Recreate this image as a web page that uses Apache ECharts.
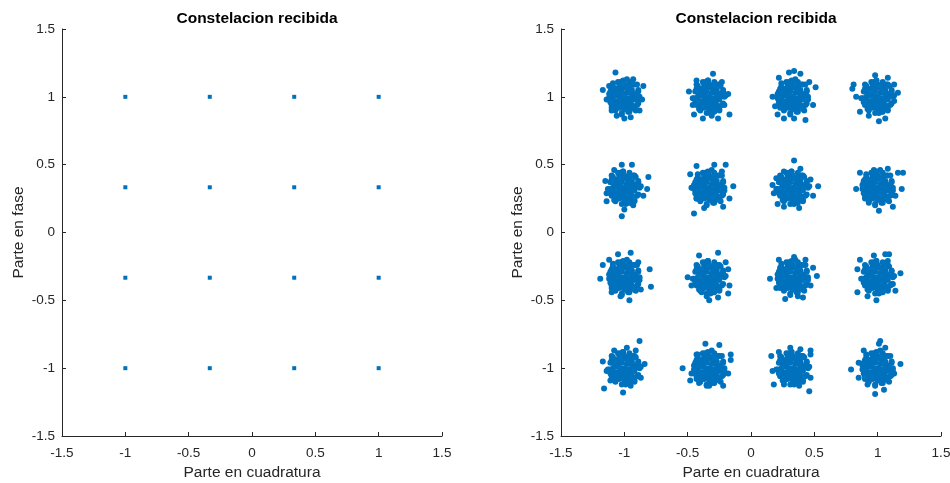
<!DOCTYPE html>
<html><head><meta charset="utf-8">
<script src="https://cdn.jsdelivr.net/npm/echarts@6/dist/echarts.min.js"></script>
<style>html,body{margin:0;padding:0;background:#fff}#c{width:950px;height:483px}</style>
</head><body><div id="c"></div>
<script>
// ---- data ----
const titleText = 'Constelacion recibida';
const xName = 'Parte en cuadratura';
const yName = 'Parte en fase';
const axisMin = -1.5, axisMax = 1.5, axisStep = 0.5;

// transmitted (ideal) constellation, left panel
const txPoints = [
 [-1,1],[-0.3333,1],[0.3333,1],[1,1],
 [-1,0.3333],[-0.3333,0.3333],[0.3333,0.3333],[1,0.3333],
 [-1,-0.3333],[-0.3333,-0.3333],[0.3333,-0.3333],[1,-0.3333],
 [-1,-1],[-0.3333,-1],[0.3333,-1],[1,-1]
];

// received clusters, right panel
const rx_m1_p1 = [[-1.09,1.00],[-1.06,1.01],[-1.03,1.00],[-1.00,1.00],[-0.97,0.99],[-0.94,1.00],[-0.91,1.01],[-1.08,1.03],[-1.05,1.03],[-1.02,1.04],[-0.98,1.03],[-0.95,1.03],[-0.92,1.02],[-1.08,0.97],[-1.05,0.97],[-1.01,0.97],[-0.98,0.96],[-0.95,0.97],[-0.92,0.98],[-1.06,1.06],[-1.03,1.06],[-1.00,1.07],[-0.97,1.06],[-0.94,1.05],[-1.06,0.94],[-1.03,0.94],[-1.00,0.94],[-0.97,0.93],[-0.94,0.94],[-1.04,1.09],[-1.00,1.09],[-0.96,1.08],[-1.04,0.92],[-1.00,0.91],[-0.96,0.91],[-0.89,1.04],[-1.11,0.96],[-0.96,0.89],[-1.03,1.11],[-0.90,0.94],[-1.10,1.06],[-0.93,1.09],[-1.07,0.91],
 [-0.88,1.00],[-0.89,1.05],[-0.92,1.09],[-0.96,1.11],[-1.01,1.12],[-1.05,1.11],[-1.09,1.08],[-1.11,1.04],[-1.12,0.99],[-1.10,0.94],[-1.07,0.90],[-1.02,0.88],[-0.97,0.89],[-0.92,0.91],[-0.89,0.95],
 [-1.07,1.18],[-1.17,1.05],[-0.85,1.08],[-1.00,0.84],[-0.95,0.85],[-1.14,0.98],[-1.06,0.86],[-0.86,0.98],[-0.93,1.13],[-1.12,1.08],[-0.88,0.90],[-1.10,0.90],
 [-0.88,0.98],[-1.12,1.02],[-0.98,1.13],[-1.02,0.87],[-0.91,0.90],[-1.09,1.10],[-0.90,1.09],[-1.10,0.92]];
const rx_m3_p1 = [[-0.42,1.00],[-0.39,1.01],[-0.36,1.00],[-0.33,1.00],[-0.30,0.99],[-0.27,1.00],[-0.24,1.01],[-0.41,1.03],[-0.38,1.03],[-0.35,1.04],[-0.31,1.03],[-0.28,1.03],[-0.25,1.02],[-0.41,0.97],[-0.38,0.97],[-0.34,0.97],[-0.31,0.96],[-0.28,0.97],[-0.25,0.98],[-0.39,1.06],[-0.36,1.06],[-0.33,1.07],[-0.30,1.06],[-0.27,1.05],[-0.39,0.94],[-0.36,0.94],[-0.33,0.94],[-0.30,0.93],[-0.27,0.94],[-0.37,1.09],[-0.33,1.09],[-0.29,1.08],[-0.37,0.92],[-0.33,0.91],[-0.29,0.91],[-0.22,1.04],[-0.44,0.96],[-0.29,0.89],[-0.36,1.11],[-0.23,0.94],[-0.43,1.06],[-0.26,1.09],[-0.40,0.91],
 [-0.21,1.00],[-0.22,1.05],[-0.25,1.09],[-0.29,1.11],[-0.34,1.12],[-0.38,1.11],[-0.42,1.08],[-0.44,1.04],[-0.45,0.99],[-0.43,0.94],[-0.40,0.90],[-0.35,0.88],[-0.30,0.89],[-0.25,0.91],[-0.22,0.95],
 [-0.49,1.04],[-0.30,1.17],[-0.43,1.12],[-0.17,0.87],[-0.26,0.84],[-0.38,0.84],[-0.45,0.87],[-0.18,1.02],[-0.46,0.94],[-0.21,0.94],[-0.23,1.11],[-0.31,0.86],
 [-0.20,1.01],[-0.46,0.99],[-0.34,1.12],[-0.32,0.88],[-0.24,1.08],[-0.41,0.91],[-0.25,0.90],[-0.43,1.09]];
const rx_p3_p1 = [[0.24,1.00],[0.27,1.01],[0.30,1.00],[0.33,1.00],[0.36,0.99],[0.39,1.00],[0.42,1.01],[0.25,1.03],[0.28,1.03],[0.31,1.04],[0.35,1.03],[0.38,1.03],[0.41,1.02],[0.25,0.97],[0.28,0.97],[0.32,0.97],[0.35,0.96],[0.38,0.97],[0.41,0.98],[0.27,1.06],[0.30,1.06],[0.33,1.07],[0.36,1.06],[0.39,1.05],[0.27,0.94],[0.30,0.94],[0.33,0.94],[0.36,0.93],[0.39,0.94],[0.29,1.09],[0.33,1.09],[0.37,1.08],[0.29,0.92],[0.33,0.91],[0.37,0.91],[0.44,1.04],[0.22,0.96],[0.37,0.89],[0.30,1.11],[0.43,0.94],[0.23,1.06],[0.40,1.09],[0.26,0.91],
 [0.45,1.00],[0.44,1.05],[0.41,1.09],[0.37,1.11],[0.32,1.12],[0.28,1.11],[0.24,1.08],[0.22,1.04],[0.21,0.99],[0.23,0.94],[0.26,0.90],[0.31,0.88],[0.36,0.89],[0.41,0.91],[0.44,0.95],
 [0.34,1.19],[0.30,1.18],[0.39,1.17],[0.22,1.14],[0.17,1.00],[0.19,0.93],[0.21,0.87],[0.26,0.84],[0.34,0.84],[0.43,0.83],[0.49,0.94],[0.51,1.07],[0.46,1.11],
 [0.45,0.98],[0.21,1.02],[0.35,1.13],[0.31,0.87],[0.42,0.90],[0.24,1.10],[0.43,1.09],[0.23,0.92]];
const rx_p1_p1 = [[0.91,1.00],[0.94,1.01],[0.97,1.00],[1.00,1.00],[1.03,0.99],[1.06,1.00],[1.09,1.01],[0.92,1.03],[0.95,1.03],[0.98,1.04],[1.02,1.03],[1.05,1.03],[1.08,1.02],[0.92,0.97],[0.95,0.97],[0.99,0.97],[1.02,0.96],[1.05,0.97],[1.08,0.98],[0.94,1.06],[0.97,1.06],[1.00,1.07],[1.03,1.06],[1.06,1.05],[0.94,0.94],[0.97,0.94],[1.00,0.94],[1.03,0.93],[1.06,0.94],[0.96,1.09],[1.00,1.09],[1.04,1.08],[0.96,0.92],[1.00,0.91],[1.04,0.91],[1.11,1.04],[0.89,0.96],[1.04,0.89],[0.97,1.11],[1.10,0.94],[0.90,1.06],[1.07,1.09],[0.93,0.91],
 [1.12,1.00],[1.11,1.05],[1.08,1.09],[1.04,1.11],[0.99,1.12],[0.95,1.11],[0.91,1.08],[0.89,1.04],[0.88,0.99],[0.90,0.94],[0.93,0.90],[0.98,0.88],[1.03,0.89],[1.08,0.91],[1.11,0.95],
 [0.81,1.09],[0.80,1.06],[0.98,1.16],[1.08,1.14],[1.16,1.03],[1.13,0.97],[0.86,0.89],[1.01,0.82],[0.93,0.86],[1.06,0.84],[0.83,1.00],[1.13,1.09],
 [1.13,1.01],[0.87,0.99],[0.99,1.12],[1.01,0.88],[1.09,1.08],[0.92,0.91],[1.08,0.90],[0.90,1.09]];
const rx_m1_p3 = [[-1.09,0.33],[-1.06,0.34],[-1.03,0.33],[-1.00,0.33],[-0.97,0.32],[-0.94,0.33],[-0.91,0.34],[-1.08,0.36],[-1.05,0.36],[-1.02,0.37],[-0.98,0.36],[-0.95,0.36],[-0.92,0.35],[-1.08,0.30],[-1.05,0.30],[-1.01,0.30],[-0.98,0.29],[-0.95,0.30],[-0.92,0.31],[-1.06,0.39],[-1.03,0.39],[-1.00,0.40],[-0.97,0.39],[-0.94,0.38],[-1.06,0.27],[-1.03,0.27],[-1.00,0.27],[-0.97,0.26],[-0.94,0.27],[-1.04,0.42],[-1.00,0.42],[-0.96,0.41],[-1.04,0.25],[-1.00,0.24],[-0.96,0.24],[-0.89,0.37],[-1.11,0.29],[-0.96,0.22],[-1.03,0.44],[-0.90,0.27],[-1.10,0.39],[-0.93,0.42],[-1.07,0.24],
 [-0.88,0.33],[-0.89,0.38],[-0.92,0.42],[-0.96,0.44],[-1.01,0.45],[-1.05,0.44],[-1.09,0.41],[-1.11,0.37],[-1.12,0.32],[-1.10,0.27],[-1.07,0.23],[-1.02,0.21],[-0.97,0.22],[-0.92,0.24],[-0.89,0.28],
 [-1.02,0.12],[-1.15,0.38],[-0.81,0.41],[-0.94,0.50],[-1.02,0.50],[-0.82,0.32],[-1.14,0.23],[-1.00,0.17],[-0.93,0.20],[-0.85,0.27],[-1.08,0.46],[-1.14,0.29],
 [-0.87,0.34],[-1.13,0.32],[-1.01,0.45],[-0.99,0.21],[-0.91,0.41],[-1.08,0.24],[-0.92,0.23],[-1.10,0.42]];
const rx_m3_p3 = [[-0.42,0.33],[-0.39,0.34],[-0.36,0.33],[-0.33,0.33],[-0.30,0.32],[-0.27,0.33],[-0.24,0.34],[-0.41,0.36],[-0.38,0.36],[-0.35,0.37],[-0.31,0.36],[-0.28,0.36],[-0.25,0.35],[-0.41,0.30],[-0.38,0.30],[-0.34,0.30],[-0.31,0.29],[-0.28,0.30],[-0.25,0.31],[-0.39,0.39],[-0.36,0.39],[-0.33,0.40],[-0.30,0.39],[-0.27,0.38],[-0.39,0.27],[-0.36,0.27],[-0.33,0.27],[-0.30,0.26],[-0.27,0.27],[-0.37,0.42],[-0.33,0.42],[-0.29,0.41],[-0.37,0.25],[-0.33,0.24],[-0.29,0.24],[-0.22,0.37],[-0.44,0.29],[-0.29,0.22],[-0.36,0.44],[-0.23,0.27],[-0.43,0.39],[-0.26,0.42],[-0.40,0.24],
 [-0.21,0.33],[-0.22,0.38],[-0.25,0.42],[-0.29,0.44],[-0.34,0.45],[-0.38,0.44],[-0.42,0.41],[-0.44,0.37],[-0.45,0.32],[-0.43,0.27],[-0.40,0.23],[-0.35,0.21],[-0.30,0.22],[-0.25,0.24],[-0.22,0.28],
 [-0.45,0.14],[-0.20,0.50],[-0.43,0.49],[-0.48,0.43],[-0.14,0.34],[-0.22,0.19],[-0.47,0.33],[-0.29,0.50],[-0.37,0.18],[-0.17,0.25],[-0.43,0.25],[-0.23,0.45],
 [-0.21,0.31],[-0.45,0.35],[-0.31,0.46],[-0.35,0.20],[-0.24,0.23],[-0.42,0.43],[-0.23,0.42],[-0.43,0.25]];
const rx_p3_p3 = [[0.24,0.33],[0.27,0.34],[0.30,0.33],[0.33,0.33],[0.36,0.32],[0.39,0.33],[0.42,0.34],[0.25,0.36],[0.28,0.36],[0.31,0.37],[0.35,0.36],[0.38,0.36],[0.41,0.35],[0.25,0.30],[0.28,0.30],[0.32,0.30],[0.35,0.29],[0.38,0.30],[0.41,0.31],[0.27,0.39],[0.30,0.39],[0.33,0.40],[0.36,0.39],[0.39,0.38],[0.27,0.27],[0.30,0.27],[0.33,0.27],[0.36,0.26],[0.39,0.27],[0.29,0.42],[0.33,0.42],[0.37,0.41],[0.29,0.25],[0.33,0.24],[0.37,0.24],[0.44,0.37],[0.22,0.29],[0.37,0.22],[0.30,0.44],[0.43,0.27],[0.23,0.39],[0.40,0.42],[0.26,0.24],
 [0.45,0.33],[0.44,0.38],[0.41,0.42],[0.37,0.44],[0.32,0.45],[0.28,0.44],[0.24,0.41],[0.22,0.37],[0.21,0.32],[0.23,0.27],[0.26,0.23],[0.31,0.21],[0.36,0.22],[0.41,0.24],[0.44,0.28],
 [0.34,0.53],[0.17,0.35],[0.53,0.34],[0.26,0.19],[0.38,0.18],[0.21,0.21],[0.47,0.39],[0.20,0.40],[0.26,0.45],[0.39,0.47],[0.49,0.27],[0.18,0.29],
 [0.46,0.34],[0.20,0.32],[0.32,0.45],[0.34,0.21],[0.42,0.41],[0.25,0.24],[0.41,0.23],[0.23,0.42]];
const rx_p1_p3 = [[0.91,0.33],[0.94,0.34],[0.97,0.33],[1.00,0.33],[1.03,0.32],[1.06,0.33],[1.09,0.34],[0.92,0.36],[0.95,0.36],[0.98,0.37],[1.02,0.36],[1.05,0.36],[1.08,0.35],[0.92,0.30],[0.95,0.30],[0.99,0.30],[1.02,0.29],[1.05,0.30],[1.08,0.31],[0.94,0.39],[0.97,0.39],[1.00,0.40],[1.03,0.39],[1.06,0.38],[0.94,0.27],[0.97,0.27],[1.00,0.27],[1.03,0.26],[1.06,0.27],[0.96,0.42],[1.00,0.42],[1.04,0.41],[0.96,0.25],[1.00,0.24],[1.04,0.24],[1.11,0.37],[0.89,0.29],[1.04,0.22],[0.97,0.44],[1.10,0.27],[0.90,0.39],[1.07,0.42],[0.93,0.24],
 [1.12,0.33],[1.11,0.38],[1.08,0.42],[1.04,0.44],[0.99,0.45],[0.95,0.44],[0.91,0.41],[0.89,0.37],[0.88,0.32],[0.90,0.27],[0.93,0.23],[0.98,0.21],[1.03,0.22],[1.08,0.24],[1.11,0.28],
 [1.20,0.44],[1.16,0.44],[0.83,0.32],[0.86,0.44],[1.01,0.16],[1.12,0.19],[1.19,0.32],[1.08,0.47],[0.93,0.22],[0.89,0.38],[0.97,0.46],[1.14,0.27],
 [1.12,0.31],[0.88,0.35],[1.02,0.46],[0.98,0.20],[1.09,0.23],[0.91,0.43],[1.10,0.42],[0.90,0.25]];
const rx_m1_m3 = [[-1.09,-0.33],[-1.06,-0.32],[-1.03,-0.33],[-1.00,-0.33],[-0.97,-0.34],[-0.94,-0.33],[-0.91,-0.32],[-1.08,-0.30],[-1.05,-0.30],[-1.02,-0.29],[-0.98,-0.30],[-0.95,-0.30],[-0.92,-0.31],[-1.08,-0.36],[-1.05,-0.36],[-1.01,-0.36],[-0.98,-0.37],[-0.95,-0.36],[-0.92,-0.35],[-1.06,-0.27],[-1.03,-0.27],[-1.00,-0.26],[-0.97,-0.27],[-0.94,-0.28],[-1.06,-0.39],[-1.03,-0.39],[-1.00,-0.39],[-0.97,-0.40],[-0.94,-0.39],[-1.04,-0.24],[-1.00,-0.24],[-0.96,-0.25],[-1.04,-0.41],[-1.00,-0.42],[-0.96,-0.42],[-0.89,-0.29],[-1.11,-0.37],[-0.96,-0.44],[-1.03,-0.22],[-0.90,-0.39],[-1.10,-0.27],[-0.93,-0.24],[-1.07,-0.42],
 [-0.88,-0.33],[-0.89,-0.28],[-0.92,-0.24],[-0.96,-0.22],[-1.01,-0.21],[-1.05,-0.22],[-1.09,-0.25],[-1.11,-0.29],[-1.12,-0.34],[-1.10,-0.39],[-1.07,-0.43],[-1.02,-0.45],[-0.97,-0.44],[-0.92,-0.42],[-0.89,-0.38],
 [-1.05,-0.16],[-0.95,-0.15],[-1.17,-0.24],[-0.80,-0.27],[-1.19,-0.34],[-0.79,-0.40],[-0.96,-0.50],[-1.10,-0.44],[-0.87,-0.42],[-1.12,-0.20],[-0.89,-0.22],[-1.03,-0.47],
 [-0.88,-0.35],[-1.12,-0.31],[-0.98,-0.20],[-1.02,-0.46],[-0.91,-0.43],[-1.09,-0.23],[-0.90,-0.24],[-1.10,-0.41]];
const rx_m3_m3 = [[-0.42,-0.33],[-0.39,-0.32],[-0.36,-0.33],[-0.33,-0.33],[-0.30,-0.34],[-0.27,-0.33],[-0.24,-0.32],[-0.41,-0.30],[-0.38,-0.30],[-0.35,-0.29],[-0.31,-0.30],[-0.28,-0.30],[-0.25,-0.31],[-0.41,-0.36],[-0.38,-0.36],[-0.34,-0.36],[-0.31,-0.37],[-0.28,-0.36],[-0.25,-0.35],[-0.39,-0.27],[-0.36,-0.27],[-0.33,-0.26],[-0.30,-0.27],[-0.27,-0.28],[-0.39,-0.39],[-0.36,-0.39],[-0.33,-0.39],[-0.30,-0.40],[-0.27,-0.39],[-0.37,-0.24],[-0.33,-0.24],[-0.29,-0.25],[-0.37,-0.41],[-0.33,-0.42],[-0.29,-0.42],[-0.22,-0.29],[-0.44,-0.37],[-0.29,-0.44],[-0.36,-0.22],[-0.23,-0.39],[-0.43,-0.27],[-0.26,-0.24],[-0.40,-0.42],
 [-0.21,-0.33],[-0.22,-0.28],[-0.25,-0.24],[-0.29,-0.22],[-0.34,-0.21],[-0.38,-0.22],[-0.42,-0.25],[-0.44,-0.29],[-0.45,-0.34],[-0.43,-0.39],[-0.40,-0.43],[-0.35,-0.45],[-0.30,-0.44],[-0.25,-0.42],[-0.22,-0.38],
 [-0.26,-0.15],[-0.33,-0.50],[-0.35,-0.47],[-0.50,-0.33],[-0.47,-0.39],[-0.20,-0.22],[-0.17,-0.39],[-0.18,-0.45],[-0.41,-0.17],[-0.26,-0.48],[-0.18,-0.27],[-0.39,-0.44],
 [-0.20,-0.32],[-0.46,-0.34],[-0.34,-0.21],[-0.32,-0.45],[-0.24,-0.25],[-0.41,-0.42],[-0.25,-0.43],[-0.43,-0.24]];
const rx_p3_m3 = [[0.24,-0.33],[0.27,-0.32],[0.30,-0.33],[0.33,-0.33],[0.36,-0.34],[0.39,-0.33],[0.42,-0.32],[0.25,-0.30],[0.28,-0.30],[0.31,-0.29],[0.35,-0.30],[0.38,-0.30],[0.41,-0.31],[0.25,-0.36],[0.28,-0.36],[0.32,-0.36],[0.35,-0.37],[0.38,-0.36],[0.41,-0.35],[0.27,-0.27],[0.30,-0.27],[0.33,-0.26],[0.36,-0.27],[0.39,-0.28],[0.27,-0.39],[0.30,-0.39],[0.33,-0.39],[0.36,-0.40],[0.39,-0.39],[0.29,-0.24],[0.33,-0.24],[0.37,-0.25],[0.29,-0.41],[0.33,-0.42],[0.37,-0.42],[0.44,-0.29],[0.22,-0.37],[0.37,-0.44],[0.30,-0.22],[0.43,-0.39],[0.23,-0.27],[0.40,-0.24],[0.26,-0.42],
 [0.45,-0.33],[0.44,-0.28],[0.41,-0.24],[0.37,-0.22],[0.32,-0.21],[0.28,-0.22],[0.24,-0.25],[0.22,-0.29],[0.21,-0.34],[0.23,-0.39],[0.26,-0.43],[0.31,-0.45],[0.36,-0.44],[0.41,-0.42],[0.44,-0.38],
 [0.22,-0.20],[0.43,-0.20],[0.15,-0.34],[0.52,-0.32],[0.27,-0.49],[0.41,-0.48],[0.20,-0.41],[0.47,-0.39],[0.34,-0.18],[0.37,-0.47],[0.23,-0.26],[0.49,-0.26],
 [0.45,-0.35],[0.21,-0.31],[0.35,-0.20],[0.31,-0.46],[0.42,-0.43],[0.24,-0.23],[0.43,-0.24],[0.23,-0.41]];
const rx_p1_m3 = [[0.91,-0.33],[0.94,-0.32],[0.97,-0.33],[1.00,-0.33],[1.03,-0.34],[1.06,-0.33],[1.09,-0.32],[0.92,-0.30],[0.95,-0.30],[0.98,-0.29],[1.02,-0.30],[1.05,-0.30],[1.08,-0.31],[0.92,-0.36],[0.95,-0.36],[0.99,-0.36],[1.02,-0.37],[1.05,-0.36],[1.08,-0.35],[0.94,-0.27],[0.97,-0.27],[1.00,-0.26],[1.03,-0.27],[1.06,-0.28],[0.94,-0.39],[0.97,-0.39],[1.00,-0.39],[1.03,-0.40],[1.06,-0.39],[0.96,-0.24],[1.00,-0.24],[1.04,-0.25],[0.96,-0.41],[1.00,-0.42],[1.04,-0.42],[1.11,-0.29],[0.89,-0.37],[1.04,-0.44],[0.97,-0.22],[1.10,-0.39],[0.90,-0.27],[1.07,-0.24],[0.93,-0.42],
 [1.12,-0.33],[1.11,-0.28],[1.08,-0.24],[1.04,-0.22],[0.99,-0.21],[0.95,-0.22],[0.91,-0.25],[0.89,-0.29],[0.88,-0.34],[0.90,-0.39],[0.93,-0.43],[0.98,-0.45],[1.03,-0.44],[1.08,-0.42],[1.11,-0.38],
 [1.06,-0.16],[1.09,-0.16],[0.86,-0.20],[0.84,-0.44],[0.99,-0.50],[1.18,-0.30],[0.84,-0.27],[1.12,-0.38],[0.92,-0.47],[1.08,-0.21],[0.97,-0.17],[1.14,-0.43],
 [1.13,-0.32],[0.87,-0.34],[0.99,-0.21],[1.01,-0.45],[1.09,-0.25],[0.92,-0.42],[1.08,-0.43],[0.90,-0.24]];
const rx_m1_m1 = [[-1.09,-1.00],[-1.06,-0.99],[-1.03,-1.00],[-1.00,-1.00],[-0.97,-1.01],[-0.94,-1.00],[-0.91,-0.99],[-1.08,-0.97],[-1.05,-0.97],[-1.02,-0.96],[-0.98,-0.97],[-0.95,-0.97],[-0.92,-0.98],[-1.08,-1.03],[-1.05,-1.03],[-1.01,-1.03],[-0.98,-1.04],[-0.95,-1.03],[-0.92,-1.02],[-1.06,-0.94],[-1.03,-0.94],[-1.00,-0.93],[-0.97,-0.94],[-0.94,-0.95],[-1.06,-1.06],[-1.03,-1.06],[-1.00,-1.06],[-0.97,-1.07],[-0.94,-1.06],[-1.04,-0.91],[-1.00,-0.91],[-0.96,-0.92],[-1.04,-1.08],[-1.00,-1.09],[-0.96,-1.09],[-0.89,-0.96],[-1.11,-1.04],[-0.96,-1.11],[-1.03,-0.89],[-0.90,-1.06],[-1.10,-0.94],[-0.93,-0.91],[-1.07,-1.09],
 [-0.88,-1.00],[-0.89,-0.95],[-0.92,-0.91],[-0.96,-0.89],[-1.01,-0.88],[-1.05,-0.89],[-1.09,-0.92],[-1.11,-0.96],[-1.12,-1.01],[-1.10,-1.06],[-1.07,-1.10],[-1.02,-1.12],[-0.97,-1.11],[-0.92,-1.09],[-0.89,-1.05],
 [-0.88,-0.80],[-1.16,-1.15],[-1.01,-1.18],[-1.17,-0.95],[-0.84,-0.97],[-0.98,-0.85],[-1.08,-0.87],[-0.91,-0.87],[-1.11,-1.09],[-0.87,-1.07],[-0.95,-1.13],[-1.14,-1.02],
 [-0.87,-0.99],[-1.13,-1.01],[-1.01,-0.88],[-0.99,-1.12],[-0.91,-0.92],[-1.08,-1.09],[-0.92,-1.10],[-1.10,-0.91]];
const rx_m3_m1 = [[-0.42,-1.00],[-0.39,-0.99],[-0.36,-1.00],[-0.33,-1.00],[-0.30,-1.01],[-0.27,-1.00],[-0.24,-0.99],[-0.41,-0.97],[-0.38,-0.97],[-0.35,-0.96],[-0.31,-0.97],[-0.28,-0.97],[-0.25,-0.98],[-0.41,-1.03],[-0.38,-1.03],[-0.34,-1.03],[-0.31,-1.04],[-0.28,-1.03],[-0.25,-1.02],[-0.39,-0.94],[-0.36,-0.94],[-0.33,-0.93],[-0.30,-0.94],[-0.27,-0.95],[-0.39,-1.06],[-0.36,-1.06],[-0.33,-1.06],[-0.30,-1.07],[-0.27,-1.06],[-0.37,-0.91],[-0.33,-0.91],[-0.29,-0.92],[-0.37,-1.08],[-0.33,-1.09],[-0.29,-1.09],[-0.22,-0.96],[-0.44,-1.04],[-0.29,-1.11],[-0.36,-0.89],[-0.23,-1.06],[-0.43,-0.94],[-0.26,-0.91],[-0.40,-1.09],
 [-0.21,-1.00],[-0.22,-0.95],[-0.25,-0.91],[-0.29,-0.89],[-0.34,-0.88],[-0.38,-0.89],[-0.42,-0.92],[-0.44,-0.96],[-0.45,-1.01],[-0.43,-1.06],[-0.40,-1.10],[-0.35,-1.12],[-0.30,-1.11],[-0.25,-1.09],[-0.22,-1.05],
 [-0.54,-1.00],[-0.36,-0.82],[-0.25,-0.83],[-0.16,-0.90],[-0.16,-0.94],[-0.18,-1.04],[-0.22,-1.13],[-0.48,-1.09],[-0.41,-1.11],[-0.33,-1.13],[-0.47,-1.04],[-0.43,-0.90],
 [-0.21,-1.02],[-0.45,-0.98],[-0.31,-0.87],[-0.35,-1.13],[-0.24,-1.10],[-0.42,-0.90],[-0.23,-0.91],[-0.43,-1.08]];
const rx_p3_m1 = [[0.24,-1.00],[0.27,-0.99],[0.30,-1.00],[0.33,-1.00],[0.36,-1.01],[0.39,-1.00],[0.42,-0.99],[0.25,-0.97],[0.28,-0.97],[0.31,-0.96],[0.35,-0.97],[0.38,-0.97],[0.41,-0.98],[0.25,-1.03],[0.28,-1.03],[0.32,-1.03],[0.35,-1.04],[0.38,-1.03],[0.41,-1.02],[0.27,-0.94],[0.30,-0.94],[0.33,-0.93],[0.36,-0.94],[0.39,-0.95],[0.27,-1.06],[0.30,-1.06],[0.33,-1.06],[0.36,-1.07],[0.39,-1.06],[0.29,-0.91],[0.33,-0.91],[0.37,-0.92],[0.29,-1.08],[0.33,-1.09],[0.37,-1.09],[0.44,-0.96],[0.22,-1.04],[0.37,-1.11],[0.30,-0.89],[0.43,-1.06],[0.23,-0.94],[0.40,-0.91],[0.26,-1.09],
 [0.45,-1.00],[0.44,-0.95],[0.41,-0.91],[0.37,-0.89],[0.32,-0.88],[0.28,-0.89],[0.24,-0.92],[0.22,-0.96],[0.21,-1.01],[0.23,-1.06],[0.26,-1.10],[0.31,-1.12],[0.36,-1.11],[0.41,-1.09],[0.44,-1.05],
 [0.46,-1.17],[0.18,-1.12],[0.16,-0.91],[0.47,-0.87],[0.47,-0.90],[0.17,-1.02],[0.38,-1.13],[0.26,-1.12],[0.31,-0.85],[0.22,-0.88],[0.47,-1.07],[0.39,-0.86],
 [0.46,-0.99],[0.20,-1.01],[0.32,-0.88],[0.34,-1.12],[0.42,-0.92],[0.25,-1.09],[0.41,-1.10],[0.23,-0.91]];
const rx_p1_m1 = [[0.91,-1.00],[0.94,-0.99],[0.97,-1.00],[1.00,-1.00],[1.03,-1.01],[1.06,-1.00],[1.09,-0.99],[0.92,-0.97],[0.95,-0.97],[0.98,-0.96],[1.02,-0.97],[1.05,-0.97],[1.08,-0.98],[0.92,-1.03],[0.95,-1.03],[0.99,-1.03],[1.02,-1.04],[1.05,-1.03],[1.08,-1.02],[0.94,-0.94],[0.97,-0.94],[1.00,-0.93],[1.03,-0.94],[1.06,-0.95],[0.94,-1.06],[0.97,-1.06],[1.00,-1.06],[1.03,-1.07],[1.06,-1.06],[0.96,-0.91],[1.00,-0.91],[1.04,-0.92],[0.96,-1.08],[1.00,-1.09],[1.04,-1.09],[1.11,-0.96],[0.89,-1.04],[1.04,-1.11],[0.97,-0.89],[1.10,-1.06],[0.90,-0.94],[1.07,-0.91],[0.93,-1.09],
 [1.12,-1.00],[1.11,-0.95],[1.08,-0.91],[1.04,-0.89],[0.99,-0.88],[0.95,-0.89],[0.91,-0.92],[0.89,-0.96],[0.88,-1.01],[0.90,-1.06],[0.93,-1.10],[0.98,-1.12],[1.03,-1.11],[1.08,-1.09],[1.11,-1.05],
 [1.02,-0.80],[1.01,-0.82],[0.79,-1.01],[0.98,-1.19],[1.05,-1.16],[1.18,-0.97],[1.13,-1.04],[0.85,-0.96],[0.89,-0.87],[1.06,-0.85],[0.92,-1.12],[0.85,-1.07],
 [1.12,-1.02],[0.88,-0.98],[1.02,-0.87],[0.98,-1.13],[1.09,-1.10],[0.91,-0.90],[1.10,-0.91],[0.90,-1.08]];

const rxPoints = [].concat(
  rx_m1_p1, rx_m3_p1, rx_p3_p1, rx_p1_p1,
  rx_m1_p3, rx_m3_p3, rx_p3_p3, rx_p1_p3,
  rx_m1_m3, rx_m3_m3, rx_p3_m3, rx_p1_m3,
  rx_m1_m1, rx_m3_m1, rx_p3_m1, rx_p1_m1
);

// ---- chart ----
const FONT = 'Liberation Sans, Arial, Helvetica, sans-serif';
const AX = '#262626';
const BLUE = '#0072BD';

function xAxisCfg(gi) {
  return {
    gridIndex: gi, type: 'value', min: axisMin, max: axisMax, interval: axisStep,
    name: xName, nameLocation: 'middle', nameGap: 20,
    nameTextStyle: { color: AX, fontFamily: FONT, fontSize: 15.5 },
    axisLine: { show: true, onZero: false, lineStyle: { color: AX, width: 1 } },
    axisTick: { show: true, inside: true, length: 4, lineStyle: { color: AX } },
    axisLabel: { color: AX, fontFamily: FONT, fontSize: 13.5, margin: 10 },
    splitLine: { show: false }
  };
}
function yAxisCfg(gi) {
  return {
    gridIndex: gi, type: 'value', min: axisMin, max: axisMax, interval: axisStep,
    name: yName, nameLocation: 'middle', nameGap: 35,
    nameTextStyle: { color: AX, fontFamily: FONT, fontSize: 15.5 },
    axisLine: { show: true, onZero: false, lineStyle: { color: AX, width: 1 } },
    axisTick: { show: true, inside: true, length: 4, lineStyle: { color: AX } },
    axisLabel: { color: AX, fontFamily: FONT, fontSize: 13.5, margin: 7 },
    splitLine: { show: false }
  };
}

const chart = echarts.init(document.getElementById('c'), null, { renderer: 'canvas' });
chart.setOption({
  animation: false,
  backgroundColor: '#ffffff',
  title: [
    { text: titleText, left: 252, top: 6, textAlign: 'center',
      textStyle: { fontFamily: FONT, fontSize: 15.5, fontWeight: 'bold', color: '#000' } },
    { text: titleText, left: 751, top: 6, textAlign: 'center',
      textStyle: { fontFamily: FONT, fontSize: 15.5, fontWeight: 'bold', color: '#000' } }
  ],
  grid: [
    { left: 62, width: 380, top: 29, height: 407, containLabel: false, outerBoundsMode: 'none' },
    { left: 561, width: 380, top: 29, height: 407, containLabel: false, outerBoundsMode: 'none' }
  ],
  xAxis: [xAxisCfg(0), xAxisCfg(1)],
  yAxis: [yAxisCfg(0), yAxisCfg(1)],
  series: [
    { type: 'scatter', xAxisIndex: 0, yAxisIndex: 0, data: txPoints,
      symbol: 'rect', symbolSize: 4, itemStyle: { color: BLUE, opacity: 1 }, silent: true },
    { type: 'scatter', xAxisIndex: 1, yAxisIndex: 1, data: rxPoints,
      symbol: 'circle', symbolSize: 6, itemStyle: { color: BLUE, opacity: 1 }, silent: true }
  ]
});
</script>
</body></html>
